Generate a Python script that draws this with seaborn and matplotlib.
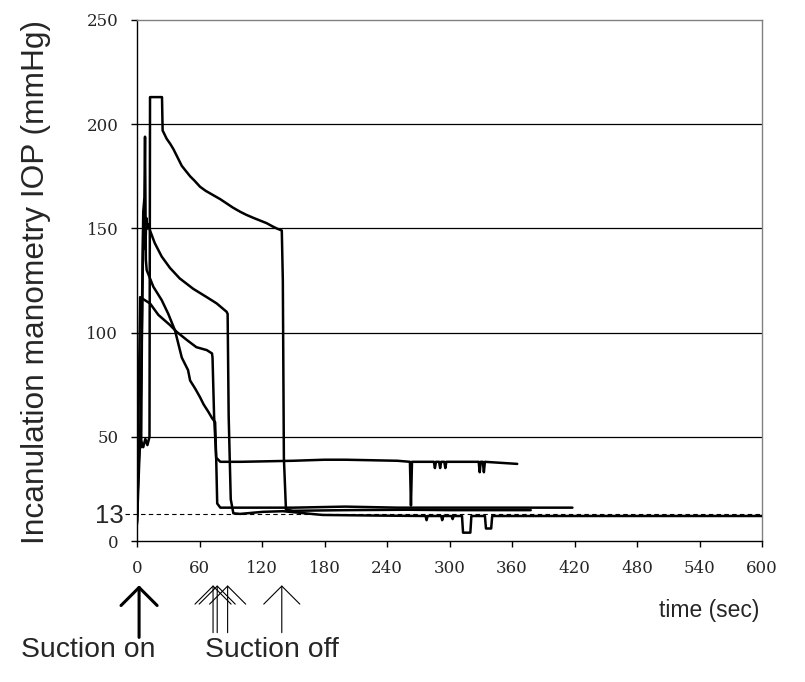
import numpy as np
import pandas as pd
import matplotlib
matplotlib.use("Agg")
import matplotlib.pyplot as plt
import seaborn as sns

# traces: time (sec) and IOP (mmHg)
t_a = [0, 1, 2, 4, 6, 8, 10, 12, 12.5, 24, 24.6, 28.5, 32, 35, 39, 43, 47, 51, 55, 60.5,
       66, 73, 80, 86, 92, 99, 105, 112, 118, 124.5, 130, 134, 139, 140, 141, 143, 150,
       200, 260, 300, 340, 378]
v_a = [9, 30, 44, 48, 45, 49, 46, 50, 213, 213, 197, 193, 190.5, 188, 184, 180, 177.5,
       175, 173, 170, 168, 166, 164, 162, 160, 158, 156.5, 155, 153.8, 152.5, 151, 150,
       149, 125, 40, 15, 14.5, 14.8, 15, 14.8, 14.8, 14.8]

t_b = [0, 1, 3, 4, 5, 6, 7, 8, 9, 10, 11, 12.5, 17, 23.7, 31.7, 41, 54, 67, 76.5, 86, 87,
       88, 90, 92.5, 99, 121, 140, 178, 230, 277, 278, 279, 292, 293, 294, 302, 303, 304,
       312, 313, 320, 321, 334, 335, 340, 341, 400, 500, 600]
v_b = [10, 30, 52, 45, 120, 158, 164, 140, 155, 150, 152, 149, 143, 136.5, 131, 126, 121,
       117, 114, 110, 109, 60, 20, 13.3, 13, 14, 14.3, 12.5, 12.2, 12, 10, 12, 12, 10, 12,
       12, 10.5, 12, 12, 4, 4, 12, 12, 6, 6, 12, 12, 12, 12]

t_c = [0, 3, 5, 6, 7, 7.7, 8.5, 9.3, 15.7, 23.7, 30, 36.5, 43, 49, 51, 56, 60.5, 64,
       68.5, 72, 75, 76, 77, 80, 100, 150, 200, 250, 300, 350, 418]
v_c = [8, 50, 110, 150, 160, 194, 135, 130, 122, 115.6, 109, 101, 88, 82, 77, 73, 69, 65.5,
       62, 59, 57, 40, 18, 16, 16, 16, 16.5, 16, 16, 16, 16]

t_d = [0, 1, 2, 3, 12.5, 20.5, 31.7, 38, 48, 57, 67, 72, 72.5, 74, 76, 80, 100, 150, 180,
       200, 250, 262, 263, 264, 285, 286, 287, 290, 291, 292, 295, 296, 297, 328, 329,
       330, 332, 333, 334, 365]
v_d = [12, 45, 80, 117, 114, 108.5, 103.6, 100.4, 96.4, 93, 91.6, 90, 88, 60, 40, 38, 38,
       38.5, 39, 39, 38.5, 38, 17, 38, 38, 35, 38, 38, 35, 38, 38, 35, 38, 38, 33, 38,
       38, 33, 38, 37]

traces = {"a": (t_a, v_a), "b": (t_b, v_b), "c": (t_c, v_c), "d": (t_d, v_d)}
df = pd.concat([pd.DataFrame({"t": t, "v": v, "trace": k}) for k, (t, v) in traces.items()],
               ignore_index=True)

x_ticks = list(range(0, 601, 60))
y_ticks = [0, 13, 50, 100, 150, 200, 250]
grid_levels = [50, 100, 150, 200]
off_times = [73, 77, 87, 139]
on_time = 2

sns.set_style("white")
plt.rcParams["font.family"] = ["Liberation Sans", "DejaVu Sans"]

fig = plt.figure(figsize=(8.05, 6.82), dpi=100)
ax = fig.add_axes([137 / 805, 1 - 541 / 682, 625 / 805, 521 / 682])

for g in grid_levels:
    ax.axhline(g, color="black", lw=0.9, zorder=1)
ax.axhline(13, xmin=-0.02, xmax=1, color="black", lw=0.8, ls=(0, (4, 3)),
           clip_on=False, zorder=1)

sns.lineplot(data=df, x="t", y="v", units="trace", estimator=None, sort=False,
             color="black", lw=1.8, ax=ax, zorder=3)

ax.set_xlim(0, 600)
ax.set_ylim(0, 250)
ax.set_xticks(x_ticks)
ax.set_yticks(y_ticks)
ax.set_xticklabels([str(x) for x in x_ticks], family="DejaVu Serif", fontsize=12)
ax.set_yticklabels([str(y) for y in y_ticks], family="DejaVu Serif", fontsize=12)
lab13 = ax.get_yticklabels()[1]
lab13.set_family("Liberation Sans")
lab13.set_fontsize(18.5)

ax.tick_params(axis="both", direction="out", length=4.5, width=1, color="black",
               left=True, bottom=True)
ax.tick_params(axis="y", pad=9)
ax.tick_params(axis="x", pad=9)
tick13 = ax.yaxis.get_major_ticks()[1]
tick13.tick1line.set_visible(False)
tick13.set_pad(5)
for side in ["top", "right"]:
    ax.spines[side].set_color("#808080")
    ax.spines[side].set_linewidth(1)
for side in ["left", "bottom"]:
    ax.spines[side].set_color("black")
    ax.spines[side].set_linewidth(1)

ax.set_xlabel("")
ax.set_ylabel("Incanulation manometry IOP (mmHg)", fontsize=22.8)
ax.yaxis.set_label_coords(-0.137, 0.497)

tr = ax.get_xaxis_transform()
ax.annotate("", xy=(on_time, -0.085), xytext=(on_time, -0.185), xycoords=tr,
            arrowprops=dict(arrowstyle="->, head_length=1.3, head_width=1.3",
                            mutation_scale=10, lw=2.2, color="black", shrinkA=0, shrinkB=0))
for t in off_times:
    ax.annotate("", xy=(t, -0.085), xytext=(t, -0.176), xycoords=tr,
                arrowprops=dict(arrowstyle="->, head_length=1.3, head_width=1.3",
                                mutation_scale=10, lw=0.8, color="black",
                                shrinkA=0, shrinkB=0))

fig.text(709 / 805, 1 - 610 / 682, "time (sec)", fontsize=16.5, ha="center", va="center")
fig.text(88 / 805, 1 - 650 / 682, "Suction on", fontsize=20.4, ha="center", va="center")
fig.text(272 / 805, 1 - 650 / 682, "Suction off", fontsize=20.4, ha="center", va="center")

fig.savefig("out.png", dpi=100, facecolor="white")
